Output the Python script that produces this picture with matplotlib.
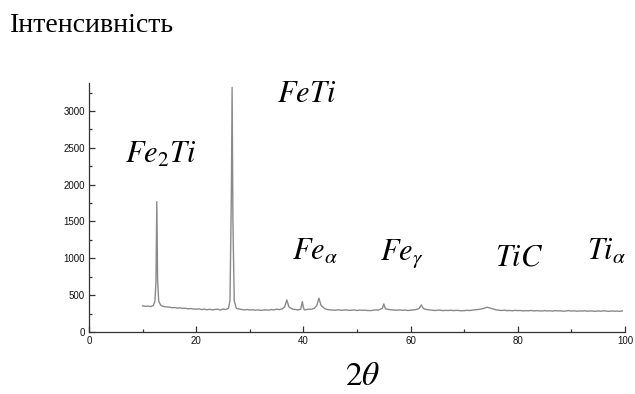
import matplotlib
matplotlib.use("Agg")
import matplotlib.pyplot as plt
from matplotlib.ticker import MultipleLocator

plt.rcParams['mathtext.fontset'] = 'stix'

# Diffraction pattern (2theta, intensity)
two_theta = [10, 10.5, 11, 11.5, 12, 12.3, 12.5, 12.65, 12.8, 13.0, 13.4, 14, 14.5, 15, 15.5, 16, 16.5,
             17, 17.5, 18, 18.5, 19, 19.5, 20, 20.5, 21, 21.5, 22, 22.5, 23, 23.5, 24, 24.5, 25,
             25.5, 26, 26.3, 26.55, 26.7, 26.85, 27.1, 27.5, 28, 28.5, 29, 29.5, 30, 30.5, 31,
             31.5, 32, 32.5, 33, 33.5, 34, 34.5, 35, 35.5, 36, 36.5, 36.9, 37.3, 38, 38.5, 39,
             39.5, 39.8, 40.0, 40.2, 40.6, 41, 41.5, 42, 42.5, 42.9, 43.3, 44, 44.5, 45, 45.5,
             46, 46.5, 47, 47.5, 48, 48.5, 49, 49.5, 50, 50.5, 51, 51.5, 52, 52.5, 53, 53.5,
             54, 54.7, 55.0, 55.3, 56, 56.5, 57, 57.5, 58, 58.5, 59, 59.5, 60, 60.5, 61, 61.6,
             62.0, 62.4, 63, 63.5, 64, 64.5, 65, 65.5, 66, 66.5, 67, 67.5, 68, 68.5, 69, 69.5,
             70, 70.5, 71, 71.5, 72, 72.5, 73, 73.5, 74, 74.3, 74.8, 75.5, 76, 76.5, 77, 77.5,
             78, 78.5, 79, 79.5, 80, 80.5, 81, 81.5, 82, 82.5, 83, 83.5, 84, 84.5, 85, 85.5,
             86, 86.5, 87, 87.5, 88, 88.5, 89, 89.5, 90, 90.5, 91, 91.5, 92, 92.5, 93, 93.5,
             94, 94.5, 95, 95.5, 96, 96.5, 97, 97.5, 98, 98.5, 99, 99.5]
intensity = [355, 348, 352, 345, 360, 420, 700, 1770, 700, 420, 360, 345, 340, 338, 330, 332, 325,
             328, 320, 322, 315, 318, 312, 310, 314, 305, 310, 302, 308, 300, 306, 310, 298, 312,
             305, 320, 420, 1800, 3320, 1500, 420, 320, 312, 305, 300, 306, 298, 302, 296,
             300, 294, 298, 300, 296, 305, 300, 310, 304, 312, 340, 436, 340, 310, 305, 300,
             310, 413, 330, 300, 305, 310, 308, 320, 360, 459, 360, 315, 305, 300, 298,
             296, 302, 295, 298, 300, 294, 296, 300, 292, 298, 294, 296, 292, 290, 296, 300,
             298, 320, 381, 315, 305, 300, 298, 296, 300, 294, 298, 292, 296, 300, 304, 320,
             368, 318, 305, 300, 296, 292, 295, 298, 290, 294, 292, 296, 290, 294, 292, 288,
             290, 294, 292, 296, 300, 305, 310, 318, 330, 336, 325, 310, 300, 296, 292, 296,
             290, 292, 288, 294, 290, 292, 286, 290, 288, 292, 286, 290, 288, 285, 290, 286,
             288, 284, 290, 286, 288, 282, 286, 290, 284, 288, 282, 286, 284, 288, 282, 286,
             284, 280, 286, 282, 288, 284, 280, 286, 282, 284, 280, 286]

title_text = "Інтенсивність"
xlabel_text = r"$2\theta$"
phase_labels = [r"$Fe_2Ti$", r"$FeTi$", r"$Fe_{\alpha}$", r"$Fe_{\gamma}$", r"$TiC$", r"$Ti_{\alpha}$"]
# left x pixel, baseline y pixel
phase_pos_px = [(125, 163), (277, 102), (292, 260), (380, 260), (495, 265), (587, 260)]

W, H = 635, 394
fig = plt.figure(figsize=(W / 100, H / 100), dpi=100)
ax = fig.add_axes([89 / W, 1 - 332 / H, (625 - 89) / W, (332 - 83) / H])

ax.plot(two_theta, intensity, color='#8a8a8a', lw=1.0)

ax.set_xlim(0, 100)
ax.set_ylim(0, 3380)
for s in ['top', 'right']:
    ax.spines[s].set_visible(False)
for s in ['left', 'bottom']:
    ax.spines[s].set_color('#333333')
    ax.spines[s].set_linewidth(0.9)

ax.xaxis.set_major_locator(MultipleLocator(20))
ax.xaxis.set_minor_locator(MultipleLocator(10))
ax.yaxis.set_major_locator(MultipleLocator(500))
ax.yaxis.set_minor_locator(MultipleLocator(250))
ax.tick_params(which='both', direction='in', color='#333333', width=0.9)
ax.tick_params(which='major', length=4)
ax.tick_params(which='minor', length=2)
for lab in ax.get_xticklabels() + ax.get_yticklabels():
    lab.set_fontsize(7)
    lab.set_family(['Liberation Sans Narrow', 'Liberation Sans'])
    lab.set_color('#111111')
ax.tick_params(axis='x', pad=3)
ax.tick_params(axis='y', pad=3)

fig.text(10 / W, 1 - 32 / H, title_text, fontsize=20, family='Liberation Serif',
         ha='left', va='baseline')
fig.text(345 / W, 1 - 385 / H, xlabel_text, fontsize=24, ha='left', va='baseline')

for lab, (px, py) in zip(phase_labels, phase_pos_px):
    fig.text(px / W, 1 - py / H, lab, fontsize=22, ha='left', va='baseline')

fig.savefig('out.png', dpi=100)
